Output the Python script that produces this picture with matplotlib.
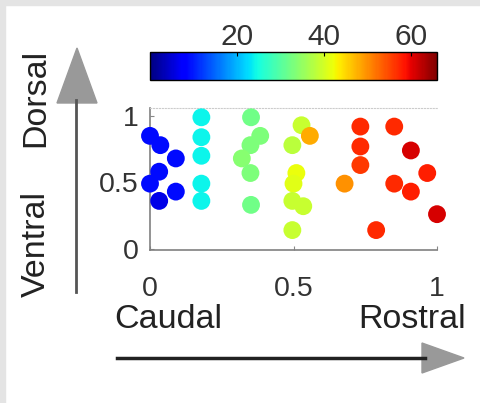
import matplotlib.pyplot as plt
import matplotlib.patches as mpatches

plt.rcParams['font.family'] = ['Liberation Sans', 'DejaVu Sans']

# positions along the caudal-rostral (x) and ventral-dorsal (y) axes, and colour value
xs = [0.00, 0.036, 0.09, 0.032, 0.00, 0.09, 0.032,
      0.179, 0.179, 0.179, 0.179, 0.179,
      0.352, 0.384, 0.35, 0.32, 0.35, 0.352,
      0.528, 0.557, 0.496, 0.51, 0.50, 0.496, 0.534, 0.496,
      0.678, 0.733, 0.733, 0.733, 0.788, 0.851, 0.909, 0.851, 0.909, 0.966, 1.00]
ys = [0.85, 0.78, 0.68, 0.58, 0.49, 0.43, 0.36,
      0.99, 0.84, 0.70, 0.49, 0.36,
      0.99, 0.85, 0.78, 0.68, 0.57, 0.33,
      0.93, 0.85, 0.78, 0.57, 0.49, 0.36, 0.32, 0.14,
      0.49, 0.92, 0.77, 0.63, 0.14, 0.92, 0.74, 0.49, 0.43, 0.57, 0.26]
vals = [9, 9, 9, 9, 9, 9, 6,
        24, 24, 24, 24, 24,
        32, 33, 33, 34, 33, 32,
        39, 48, 38, 42, 41, 39, 39, 39,
        50, 57, 57, 56, 57, 57, 61, 57, 58, 58, 61]

xticks = [0, 0.5, 1]
xticklabels = ['0', '0.5', '1']
yticks = [0, 0.5, 1]
yticklabels = ['0', '0.5', '1']
cticks = [20, 40, 60]

fig = plt.figure(figsize=(4.81, 4.03), dpi=100)

# light gray frame on left and top edges
fig.patches.append(mpatches.Rectangle((0, 0), 5 / 481, 1, transform=fig.transFigure,
                                      color='#e4e4e4', zorder=0))
fig.patches.append(mpatches.Rectangle((0, 1 - 5 / 403), 1, 5 / 403, transform=fig.transFigure,
                                      color='#e4e4e4', zorder=0))

ax = fig.add_axes([150 / 481, 153 / 403, 287 / 481, 142 / 403])
sc = ax.scatter(xs, ys, c=vals, cmap='jet', vmin=0, vmax=66, s=165,
                edgecolors='none', clip_on=False, zorder=3)
ax.set_xlim(0, 1)
ax.set_ylim(-0.01, 1.06)
ax.set_xticks(xticks)
ax.set_xticklabels(xticklabels)
ax.set_yticks(yticks)
ax.set_yticklabels(yticklabels)
ax.tick_params(direction='in', length=3, color='#888888', labelsize=20.5,
               labelcolor='#333333')
ax.tick_params(axis='x', pad=19)
ax.tick_params(axis='y', pad=8)
for s in ['left', 'bottom']:
    ax.spines[s].set_color('#808080')
    ax.spines[s].set_linewidth(1.2)
ax.spines['right'].set_visible(False)
ax.spines['top'].set_color('#cccccc')
ax.spines['top'].set_linestyle(':')

# colorbar on top
cax = fig.add_axes([150 / 481, 323 / 403, 287 / 481, 28 / 403])
cb = fig.colorbar(sc, cax=cax, orientation='horizontal', ticks=cticks)
cax.xaxis.set_ticks_position('top')
cax.xaxis.set_label_position('top')
cax.tick_params(direction='in', length=3, labelsize=21.5, labelcolor='#333333', pad=1)
cb.outline.set_linewidth(1)

# anatomical direction arrows
fig.add_artist(plt.Line2D([76 / 481, 76 / 481], [1 - 292 / 403, 1 - 100 / 403],
                          transform=fig.transFigure, color='#555555', lw=2))
fig.patches.append(mpatches.Polygon([[57 / 481, 1 - 103 / 403], [97 / 481, 1 - 103 / 403],
                                     [77 / 481, 1 - 48 / 403]], closed=True,
                                    transform=fig.transFigure, color='#999999'))
fig.add_artist(plt.Line2D([117 / 481, 425 / 481], [1 - 358 / 403, 1 - 358 / 403],
                          transform=fig.transFigure, color='#222222', lw=2.5))
fig.patches.append(mpatches.Polygon([[422 / 481, 1 - 343 / 403], [422 / 481, 1 - 373 / 403],
                                     [464 / 481, 1 - 358 / 403]], closed=True,
                                    transform=fig.transFigure, color='#999999'))

fig.text(36 / 481, 1 - 98 / 403, 'Dorsal', rotation=90, ha='center', va='center',
         fontsize=24.5, color='#222222')
fig.text(36 / 481, 1 - 244 / 403, 'Ventral', rotation=90, ha='center', va='center',
         fontsize=24.5, color='#222222')
fig.text(114 / 481, 1 - 320 / 403, 'Caudal', ha='left', va='center', fontsize=24.5,
         color='#222222')
fig.text(466 / 481, 1 - 320 / 403, 'Rostral', ha='right', va='center', fontsize=24.5,
         color='#222222')

fig.savefig('out.png', dpi=100)
